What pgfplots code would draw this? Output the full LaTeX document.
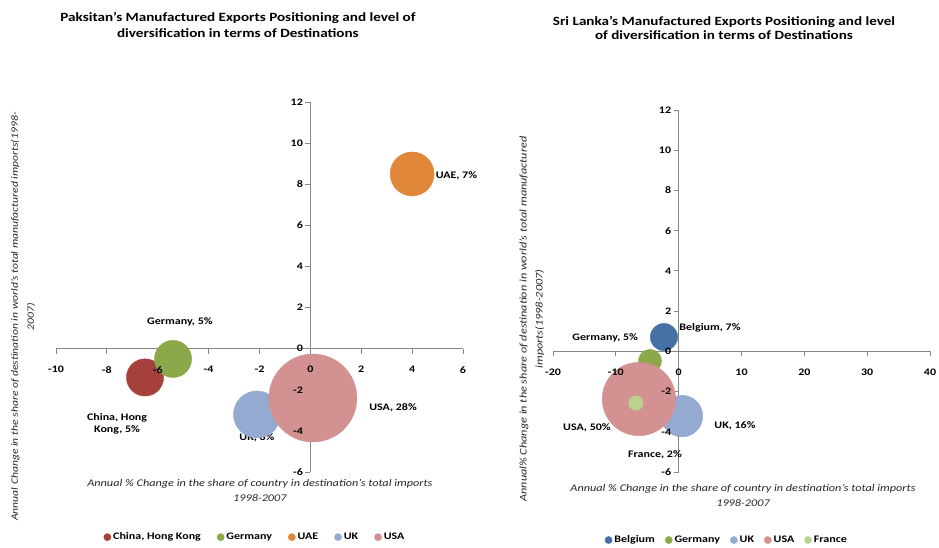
\documentclass[border=0pt]{standalone}
\usepackage{fontspec}
\setmainfont{Carlito}[FakeStretch=1.2]
\usepackage{pgfplots}
\pgfplotsset{compat=1.18}
\definecolor{axgray}{HTML}{868686}
\definecolor{cChina}{HTML}{A6403D}
\definecolor{cGer}{HTML}{8BA84A}
\definecolor{cUAE}{HTML}{E0873A}
\definecolor{cUK}{HTML}{94AAD1}
\definecolor{cUSA}{HTML}{D49192}
\definecolor{cBel}{HTML}{4571A6}
\definecolor{cFra}{HTML}{BBD190}
\tikzset{dlab/.style={font=\bfseries\fontsize{10}{12.5}\selectfont, align=center, text=black}}
\pgfplotsset{
  bub/.style={
    scale only axis, axis lines=middle,
    axis line style={axgray, line width=1.4pt, -},
    tick style={axgray, line width=0.8pt}, major tick length=5pt, tick align=outside,
    xticklabels={}, yticklabels={},
    clip=false,
    legend columns=5,
    legend style={draw=none, fill=none, font=\bfseries\fontsize{10}{11}\selectfont},
    title style={font=\bfseries\fontsize{12.6}{16.5}\selectfont, align=center},
    xlabel style={font=\itshape\fontsize{10.2}{15}\selectfont, align=center, text=black!85},
    ylabel style={font=\itshape\fontsize{9.7}{16}\selectfont, align=center, text=black!85, rotate=0},
  },
  labs/.style={
    scale only axis, axis lines=middle,
    axis line style={draw=none},
    major tick length=0pt, tick style={draw=none},
    hide obscured x ticks=false, hide obscured y ticks=false,
    ticklabel style={font=\bfseries\fontsize{10}{12}\selectfont, text=black},
    xticklabel style={yshift=-14pt},
    yticklabel style={xshift=-4pt},
    /pgf/number format/assume math mode=true,
  },
  ball/.style 2 args={only marks, mark=*, color=#1, mark size=#2,
    mark options={draw=none, fill=#1},
    legend image code/.code={\fill[#1] (0.1cm,0) circle (3.6pt);}},
}
\begin{document}
\begin{tikzpicture}
\useasboundingbox (0,0) rectangle (939pt,-548pt);
% ---------------- Pakistan ----------------
\begin{axis}[bub,
  at={(56pt,-472pt)}, anchor=south west,
  width=407pt, height=370pt,
  xmin=-10, xmax=6, ymin=-6, ymax=12,
  xtick={-10,-8,...,6}, ytick={-6,-4,...,12},
  title={Paksitan's Manufactured Exports Positioning and level of\\diversification in terms of Destinations},
  title style={at={(axis description cs:0.447,1.192)}, anchor=center},
  xlabel={Annual \% Change in the share of  country in destination's total imports\\1998-2007},
  xlabel style={at={(axis description cs:0.501,-0.05)}, anchor=center},
  ylabel={Annual Change in the share of destination in world's total manufactured imports(1998-\\2007)},
  ylabel style={at={(axis description cs:-0.081,0.42)}, anchor=center, rotate=90},
  legend style={at={(axis description cs:0.489,-0.176)}, anchor=center,
    /tikz/every even column/.append style={column sep=14pt}},
]
\addplot[ball={cChina}{18.6pt}] coordinates {(-6.5,-1.4)};
\addlegendentry{China, Hong Kong}
\addplot[ball={cGer}{18.6pt}] coordinates {(-5.4,-0.5)};
\addlegendentry{Germany}
\addplot[ball={cUAE}{22pt}] coordinates {(4.0,8.5)};
\addlegendentry{UAE}
\addplot[ball={cUK}{23.5pt}] coordinates {(-2.1,-3.2)};
\addlegendentry{UK}
\addplot[ball={cUSA}{44pt}] coordinates {(0.1,-2.4)};
\addlegendentry{USA}
\node[dlab, anchor=west] at (axis cs:4.79,8.41) {UAE, 7\%};
\node[dlab] at (axis cs:-5.13,1.31) {Germany, 5\%};
\node[dlab] at (axis cs:-7.6,-3.65) {China, Hong\\Kong, 5\%};
\node[dlab] at (axis cs:-2.1,-4.33) {UK, 8\%};
\node[dlab] at (axis cs:3.25,-2.87) {USA, 28\%};
\end{axis}
\begin{axis}[labs,
  at={(56pt,-472pt)}, anchor=south west,
  width=407pt, height=370pt,
  xmin=-10, xmax=6, ymin=-6, ymax=12,
  xtick={-10,-8,...,6}, ytick={-6,-4,...,12},
]
\end{axis}
% ---------------- Sri Lanka ----------------
\begin{axis}[bub,
  at={(553pt,-472pt)}, anchor=south west,
  width=377pt, height=362pt,
  xmin=-20, xmax=40, ymin=-6, ymax=12,
  xtick={-20,-10,...,40}, ytick={-6,-4,...,12},
  title={Sri Lanka's Manufactured Exports Positioning and level\\of diversification in terms of Destinations},
  title style={at={(axis description cs:0.4536,1.21)}, anchor=center, font=\bfseries\fontsize{12.6}{14.5}\selectfont},
  xlabel={Annual \% Change in the share of  country in destination's total imports\\1998-2007},
  xlabel style={at={(axis description cs:0.504,-0.066)}, anchor=center},
  ylabel={Annual\% Change in the share of destination in world's total manufactured\\imports(1998-2007)},
  ylabel style={at={(axis description cs:-0.0557,0.4227)}, anchor=center, rotate=90, font=\itshape\fontsize{10.2}{16}\selectfont},
  legend style={at={(axis description cs:0.461,-0.188)}, anchor=center,
    /tikz/every even column/.append style={column sep=8pt}},
]
\addplot[ball={cBel}{13.7pt}] coordinates {(-2.34,0.71)};
\addlegendentry{Belgium}
\addplot[ball={cGer}{11.6pt}] coordinates {(-4.57,-0.48)};
\addlegendentry{Germany}
\addplot[ball={cUK}{20.8pt}] coordinates {(0.53,-3.22)};
\addlegendentry{UK}
\addplot[ball={cUSA}{36.7pt}] coordinates {(-6.32,-2.37)};
\addlegendentry{USA}
\addplot[ball={cFra}{7.3pt}] coordinates {(-6.8,-2.57)};
\addlegendentry{France}
\node[dlab] at (axis cs:4.98,1.16) {Belgium, 7\%};
\node[dlab] at (axis cs:-11.7,0.66) {Germany, 5\%};
\node[dlab] at (axis cs:8.96,-3.71) {UK, 16\%};
\node[dlab] at (axis cs:-14.6,-3.81) {USA, 50\%};
\node[dlab] at (axis cs:-3.77,-5.16) {France, 2\%};
\end{axis}
\begin{axis}[labs,
  at={(553pt,-472pt)}, anchor=south west,
  width=377pt, height=362pt,
  xmin=-20, xmax=40, ymin=-6, ymax=12,
  xtick={-20,-10,...,40}, ytick={-6,-4,...,12},
]
\end{axis}
\end{tikzpicture}
\end{document}
